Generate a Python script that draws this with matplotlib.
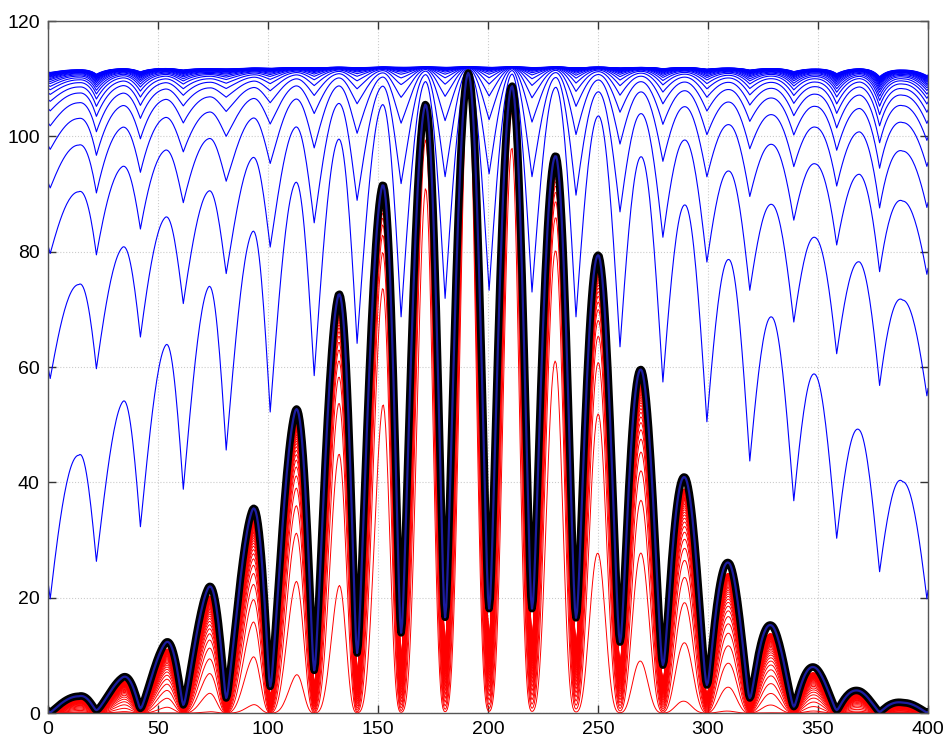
import numpy as np
import matplotlib
matplotlib.use("Agg")
import matplotlib.pyplot as plt

# tops of the lobes of the thick curve
lobe_x = [14, 34, 53.5, 73, 93, 112.5, 132, 152, 171.5, 191, 211, 231, 250.5,
          270, 290, 310, 329.5, 349, 369, 388.5]
lobe_peak = [2.9, 6.2, 12.2, 21.8, 35.3, 52.5, 72.5, 91.5, 105.5, 111.0, 108.7,
             96.5, 79.2, 59.3, 40.6, 25.8, 15.0, 7.8, 3.8, 1.8]

# minima between the lobes
dip_x = [1.0, 22, 42, 61.5, 81, 101, 121, 140.5, 160.5, 180.5, 200.5, 220, 240,
         260, 279.5, 299.5, 319, 339, 358.5, 378, 399.5]
dip_val = [0.1, 0.5, 0.8, 1.4, 2.6, 4.6, 7.4, 10.4, 13.9, 16.6, 18.1, 18.1,
           16.5, 12.3, 8.3, 4.85, 2.6, 1.1, 0.5, 0.2, 0.1]

# lowest two blue curves: value at each cusp and at each lobe top
blue1_cusp = [19.8, 26.3, 32.3, 38.8, 45.6, 52.2, 58.5, 64.1, 68.7, 71.9, 73.3,
              73.0, 68.7, 63.5, 57.4, 50.5, 43.7, 36.8, 30.3, 24.5, 19.8]
blue1_top = [44.7, 54.0, 63.8, 73.9, 83.5, 92.0, 99.5, 105.5, 109.5, 111.0,
             110.8, 108.5, 103.5, 96.4, 88.0, 78.5, 68.5, 58.6, 49.0, 40.1]
blue2_cusp = [58.0, 59.7, 65.2, 71.0, 76.2, 80.8, 85.0, 88.9, 91.8, 93.0, 93.5,
              93.0, 89.8, 86.9, 82.5, 78.2, 73.3, 67.8, 62.3, 56.8, 55.0]
blue2_top = [74.3, 80.8, 86.0, 90.5, 96.3, 101.6, 105.7, 108.7, 110.7, 111.5,
             111.4, 110.2, 107.7, 103.9, 99.3, 93.9, 88.1, 82.4, 78.2, 71.6]
blue_ceiling = 112.0
# how fast each further blue curve closes in on the ceiling
blue_power = [0, 1, 1.96, 2.77, 3.49, 4.12, 4.67, 5.13, 5.55, 5.9, 6.2, 6.5,
              6.75, 7.0, 7.2, 7.4, 7.55, 7.7, 7.85, 8.0, 8.1, 8.2, 8.3, 8.4,
              8.5, 8.6]

# red curves: gaussian window around the centre, one spread value per curve
red_center = 193.0
red_scale = 97.0
red_spread = [0.33, 0.82, 1.31, 1.80, 2.29, 2.78, 3.27, 3.76, 4.25, 4.74, 5.23,
              5.72, 6.21, 6.70, 7.19, 7.68, 8.17, 8.66, 9.15, 9.64, 10.13,
              10.62, 11.11, 11.60, 12.09, 12.58, 13.07, 13.56, 14.05, 14.54,
              15.03, 15.52, 16.01, 16.50, 16.99, 17.48, 17.97, 18.46, 18.95,
              19.44]

x = np.arange(0, 400.01, 0.5)

# phase: 0 on every lobe top, odd multiples of pi on every dip
kx = np.array(sorted(dip_x + lobe_x))
kp = np.pi * (np.arange(len(kx)) - 1)
ph = np.interp(x, kx, kp)
s0 = np.pi / (kx[1] - kx[0])
s1 = np.pi / (kx[-1] - kx[-2])
ph = np.where(x < kx[0], kp[0] - (kx[0] - x) * s0, ph)
ph = np.where(x > kx[-1], kp[-1] + (x - kx[-1]) * s1, ph)
hump = np.abs(np.cos(ph / 2))

P = np.exp(np.interp(x, lobe_x, np.log(lobe_peak)))
T = np.exp(np.interp(x, dip_x, np.log(dip_val)))

a = (P + T) / 2
b = (P - T) / 2
black = np.sqrt(np.maximum(a * a + b * b + 2 * a * b * np.cos(ph), 0))


def between(at_dip, at_top):
    lo = np.interp(x, dip_x, at_dip)
    hi = np.interp(x, lobe_x, at_top)
    return lo + (hi - lo) * hump


fig = plt.figure(figsize=(9.47, 7.44), dpi=100)
ax = fig.add_axes([48 / 947, 31 / 744, 880 / 947, 692 / 744])

# blue family
c1 = blue_ceiling - np.array(blue1_cusp)
c2 = blue_ceiling - np.array(blue2_cusp)
t1 = blue_ceiling - np.array(blue1_top)
t2 = blue_ceiling - np.array(blue2_top)
d1 = between(c1, t1)
rho = np.clip(between(c2 / c1, t2 / t1), 0.05, 0.95)
for e in blue_power:
    ax.plot(x, blue_ceiling - d1 * rho ** e, color=(0, 0, 1), lw=0.8)

# red family: sharper, windowed copies of the thick curve
shape = black / P
for t in red_spread:
    g = np.exp(-(x - red_center) ** 2 / (red_scale ** 2 * t))
    m = 1 + 3.5 / (t + 1.2)
    ax.plot(x, g * P * shape ** m, color=(1, 0, 0), lw=0.7)

ax.plot(x, black, color="k", lw=5.5, solid_joinstyle="round")
ax.plot(x, black, color="#1c1ca0", lw=1.6)

ax.set_xlim(0, 400)
ax.set_ylim(0, 120)
ax.set_xticks(np.arange(0, 401, 50))
ax.set_yticks(np.arange(0, 121, 20))
ax.grid(True, linestyle=":", color="#cccccc", lw=0.8)
ax.set_axisbelow(True)
ax.tick_params(direction="in", top=True, right=True, length=6, width=1,
               color="#333333", labelsize=14, pad=6)
for lab in ax.get_xticklabels() + ax.get_yticklabels():
    lab.set_fontfamily("Liberation Sans")
for sp in ax.spines.values():
    sp.set_color("#555555")
    sp.set_linewidth(1.0)

fig.savefig("out.png", dpi=100)
